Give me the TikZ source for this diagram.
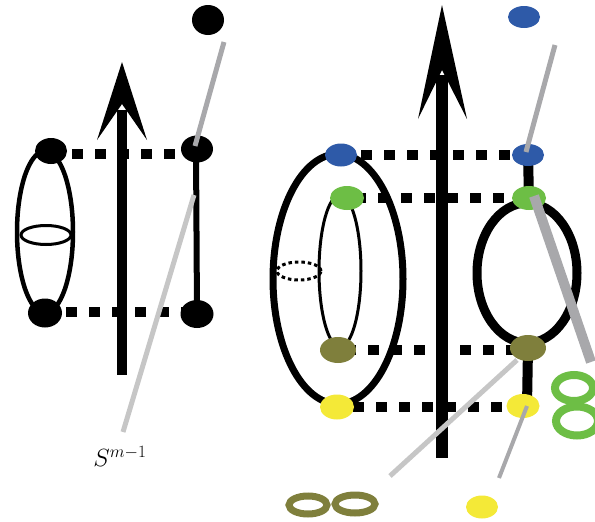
\documentclass[tikz,border=0pt]{standalone}
\usepackage{tikz}
\usetikzlibrary{shapes.geometric,backgrounds}
\definecolor{cblue}{HTML}{2E5AA8}
\definecolor{cgreen}{HTML}{6DBE45}
\definecolor{colive}{HTML}{7F7F3C}
\definecolor{cyellow}{HTML}{F4E937}
\definecolor{gdark}{HTML}{A8A8AB}
\definecolor{glight}{HTML}{C6C6C6}
\tikzset{
  dot/.style={ellipse, fill=#1, draw=none, inner sep=0pt},
  dot/.default=black,
  sz/.style n args={2}{minimum width=#1pt, minimum height=#2pt},
  dashline/.style={line width=10pt, dash pattern=on 11pt off 12pt},
  wire/.style={line width=#1pt},
  greyline/.style={line width=5pt, draw=gdark},
  paleline/.style={line width=5pt, draw=glight},
  ring/.style={line width=8pt, draw=#1},
}
\begin{document}
\begin{tikzpicture}[x=1pt,y=-1pt]
\useasboundingbox (0,0) rectangle (595,522);

% ---------- left picture: points ----------
\node[dot, sz={32}{30}] (top) at (208,20) {};
\node[dot, sz={32}{26}] (ltl) at (51,151) {};
\node[dot, sz={32}{27}] (ltr) at (197,149) {};
\node[dot, sz={34}{29}] (lbl) at (45,313) {};
\node[dot, sz={33}{28}] (lbr) at (197,314) {};

% ---------- right picture: points ----------
\node[dot=cblue,   sz={32}{22}] (rtop) at (524,17) {};
\node[dot=cblue,   sz={32}{23}] (b1) at (341,155) {};
\node[dot=cgreen,  sz={34}{24}] (g1) at (347,198) {};
\node[dot=colive,  sz={36}{26}] (o1) at (338,350) {};
\node[dot=cyellow, sz={34}{25}] (y1) at (337,407) {};
\node[dot=cblue,   sz={32}{22}] (b2) at (528,155) {};
\node[dot=cgreen,  sz={34}{24}] (g2) at (529,198) {};
\node[dot=colive,  sz={36}{26}] (o2) at (528,348) {};
\node[dot=cyellow, sz={33}{24}] (y2) at (523,406) {};
\node[dot=cyellow, sz={32}{23}] (ybot) at (482,507) {};

\begin{scope}[on background layer]
  % left: sphere and its equator
  \draw[wire=4.5] (45,232) ellipse [x radius=28pt, y radius=81pt];
  \draw[wire=3] (46,235) ellipse [x radius=25pt, y radius=9.5pt];
  % left: dashed fibres and the arc
  \draw[dashline, dash phase=2pt] ([yshift=-3pt]ltl.center) -- ([yshift=-3pt]ltl.center -| ltr.center);
  \draw[dashline, dash phase=2pt] ([yshift=1pt]lbl.center) -- ([yshift=1pt]lbl.center -| lbr.center);
  \draw[wire=6] ([xshift=-1pt]ltr.center) -- (lbr.center);
  % left arrow
  \fill (122,62) -- (147,140) -- (122,104) -- (97,140) -- cycle;
  \draw[wire=10.5] (122,110) -- (122,375);

  % right: torus
  \draw[wire=7] (338,279) ellipse [x radius=65pt, y radius=125pt];
  \draw[wire=3] (340,271) ellipse [x radius=21pt, y radius=76pt];
  \draw[wire=3, dash pattern=on 3.5pt off 3pt] (299,271) ellipse [x radius=22pt, y radius=9pt];
  % right: circle with two tails
  \draw[wire=9] (527,273) ellipse [x radius=50pt, y radius=70pt];
  \draw[wire=10] (b2.center) -- (g2.center);
  \draw[wire=10] (o2.center) -- ([xshift=4pt]y2.center);
  % right: dashed fibres
  \draw[dashline, dash phase=-20pt] (b1.center) -- (b1.center -| b2.center);
  \draw[dashline, dash phase=-8pt] (g1.center) -- (g1.center -| g2.center);
  \draw[dashline, dash phase=-7pt] (o1.center) -- (o1.center -| o2.center);
  \draw[dashline, dash phase=-16pt] (y1.center) -- (y1.center -| y2.center);
  % right arrow
  \fill (442,5) -- (467,119) -- (442,70) -- (418,119) -- cycle;
  \draw[wire=12.5] (442,75) -- (442,458);
\end{scope}

% ---------- pointer lines ----------
\coordinate (p1) at (224,42);
\coordinate (p2) at (194,195);
\coordinate (p3) at (123,432);
\draw[greyline] (p1) -- ([xshift=-2pt,yshift=3pt]ltr.center);
\draw[paleline] (p2) -- (p3);

\coordinate (q1) at (555,45);
\coordinate (q2) at (591,362);
\coordinate (q3) at (517,360);
\coordinate (q4) at (390,476);
\coordinate (q5) at (499,478);
\draw[greyline] (q1) -- ([xshift=-2pt,yshift=3pt]b2.center);
\draw[greyline, line width=10pt] ([xshift=5pt,yshift=2pt]g2.center) -- (q2);
\draw[paleline] (q3) -- (q4);
\draw[greyline, line width=4pt] ([xshift=4pt]y2.center) -- (q5);

% ---------- figure eights ----------
\draw[ring=cgreen] (574,388) ellipse [x radius=19pt, y radius=13pt];
\draw[ring=cgreen] (577,421) ellipse [x radius=21pt, y radius=14.5pt];
\draw[ring=colive, line width=7pt] (308,505) ellipse [x radius=19pt, y radius=9pt];
\draw[ring=colive, line width=7pt] (355,504) ellipse [x radius=20pt, y radius=9pt];

% ---------- label ----------
\node (lab) at (120,456) {\fontsize{24}{28}\selectfont $S^{m-1}$};
\end{tikzpicture}
\end{document}
